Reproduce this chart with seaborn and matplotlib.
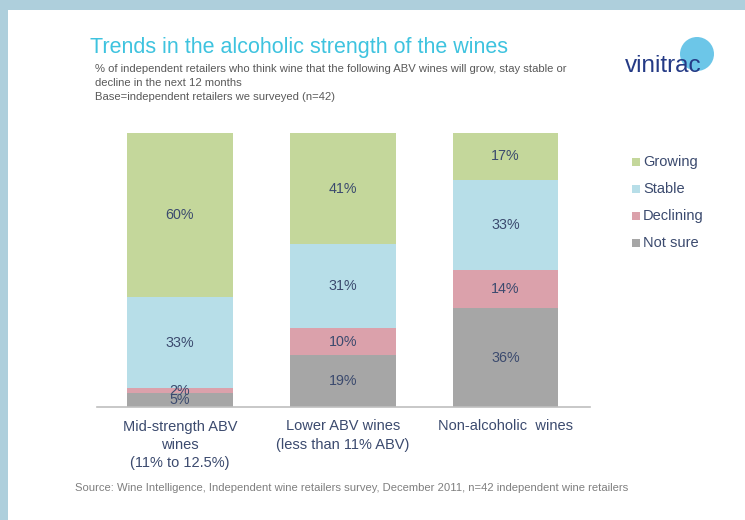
import matplotlib
matplotlib.use("Agg")
import matplotlib.pyplot as plt
import matplotlib.patches as mpatches
import seaborn as sns
import numpy as np
import pandas as pd

categories = ["Mid-strength ABV\nwines\n(11% to 12.5%)",
              "Lower ABV wines\n(less than 11% ABV)",
              "Non-alcoholic  wines"]
series = ["Growing", "Stable", "Declining", "Not sure"]
growing = [60, 41, 17]
stable = [33, 31, 33]
declining = [2, 10, 14]
not_sure = [5, 19, 36]

colors = {"Growing": "#c4d79b", "Stable": "#b7dee8",
          "Declining": "#dba1ab", "Not sure": "#a6a6a6"}
navy = "#3b4a6e"

sns.set_theme(style="white")
plt.rcParams['font.family'] = ['Liberation Sans', 'DejaVu Sans']

fig = plt.figure(figsize=(7.45, 5.2), dpi=100)
fig.patch.set_facecolor("#aecfdc")
fig.patches.append(mpatches.Rectangle((8/745, 0), 1, 1 - 10/520, transform=fig.transFigure,
                                      facecolor="white", edgecolor="none", zorder=-5))

ax = fig.add_axes([97/745, 1 - 407/520, 493/745, 274/520])
ax.set_facecolor("none")
ax.set_zorder(2)

vals = {"Growing": np.array(growing, float), "Stable": np.array(stable, float),
        "Declining": np.array(declining, float), "Not sure": np.array(not_sure, float)}
totals = sum(vals.values())
for k in vals:
    vals[k] = vals[k] / totals * 100

order_bottom = ["Not sure", "Declining", "Stable", "Growing"]
cum = np.zeros(3)
bottoms = {}
for s in order_bottom:
    bottoms[s] = cum.copy()
    cum = cum + vals[s]

for s in order_bottom:
    df = pd.DataFrame({"cat": categories, "val": vals[s]})
    sns.barplot(data=df, x="cat", y="val", bottom=bottoms[s], color=colors[s],
                width=0.65, saturation=1, ax=ax, edgecolor="none", zorder=2)

labels_raw = {"Growing": growing, "Stable": stable, "Declining": declining, "Not sure": not_sure}
for s in order_bottom:
    for i in range(3):
        y = bottoms[s][i] + vals[s][i] / 2
        ax.text(i, y, f"{labels_raw[s][i]}%", ha="center", va="center",
                fontsize=10.3, color=navy, zorder=3)

ax.set_xlim(-0.51, 2.52)
ax.set_ylim(0, 100)
ax.set_xlabel("")
ax.set_ylabel("")
ax.set_yticks([])
for sp in ["top", "right", "left"]:
    ax.spines[sp].set_visible(False)
ax.spines["bottom"].set_color("#bfbfbf")
ax.spines["bottom"].set_linewidth(1.2)
ax.tick_params(axis="x", length=0, pad=9, labelsize=10.5, labelcolor=navy)
for t in ax.get_xticklabels():
    t.set_linespacing(1.4)

# legend
leg_y = [162, 189, 216, 243]
for s, y in zip(series, leg_y):
    fig.patches.append(mpatches.Rectangle((632/745, 1 - (y + 4) / 520), 8/745, 8/520,
                                          transform=fig.transFigure, facecolor=colors[s],
                                          edgecolor="none"))
    fig.text(643/745, 1 - y/520, s, fontsize=10.5, color=navy, va="center", ha="left")

# titles
fig.text(90/745, 1 - 47/520, "Trends in the alcoholic strength of the wines",
         fontsize=15.5, color="#3ec3df", va="center", ha="left")
sub = ["% of independent retailers who think wine that the following ABV wines will grow, stay stable or",
       "decline in the next 12 months",
       "Base=independent retailers we surveyed (n=42)"]
for line, y in zip(sub, [69, 83, 97]):
    fig.text(95/745, 1 - y/520, line, fontsize=8.1, color="#595959", va="center", ha="left")

# logo
fig.patches.append(mpatches.Ellipse((697/745, 1 - 54/520), 34/745, 34/520,
                                    transform=fig.transFigure, facecolor="#5cc0e6",
                                    edgecolor="none", alpha=0.9, zorder=-1))
fig.text(625/745, 1 - 66/520, "vinitrac", fontsize=17.5, color="#243a85", va="center",
         ha="left", zorder=3)

fig.text(75/745, 1 - 488/520,
         "Source: Wine Intelligence, Independent wine retailers survey, December 2011, n=42 independent wine retailers",
         fontsize=8.1, color="#7f7f7f", va="center", ha="left")

fig.savefig("out.png", dpi=100)
